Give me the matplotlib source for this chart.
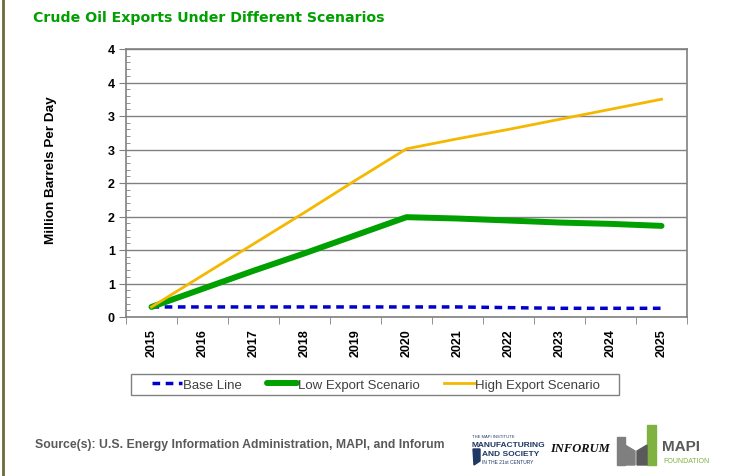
import matplotlib
matplotlib.use("Agg")
import matplotlib.pyplot as plt
from matplotlib.ticker import FixedLocator, MultipleLocator
from matplotlib.patches import Rectangle, Polygon
import numpy as np

years = ["2015", "2016", "2017", "2018", "2019", "2020", "2021", "2022", "2023", "2024", "2025"]
base_line = [0.15, 0.15, 0.15, 0.15, 0.15, 0.15, 0.15, 0.14, 0.13, 0.13, 0.13]
low_export = [0.15, 0.42, 0.69, 0.95, 1.22, 1.49, 1.47, 1.44, 1.41, 1.39, 1.36]
high_export = [0.15, 0.62, 1.09, 1.56, 2.04, 2.51, 2.66, 2.80, 2.95, 3.10, 3.25]
y_ticks = [0, 0.5, 1, 1.5, 2, 2.5, 3, 3.5, 4]
y_tick_labels = ["0", "1", "1", "2", "2", "3", "3", "4", "4"]

W, H = 742, 477
fig = plt.figure(figsize=(W / 100, H / 100), dpi=100)
fig.patch.set_facecolor("white")

ax = fig.add_axes([126 / W, 1 - 318 / H, (687 - 126) / W, (318 - 50) / H])
x = np.arange(len(years))
grid_c = "#808080"

ax.plot(x, base_line, color="#0000CC", lw=2.5, ls=(0, (2.2, 1.6)), label="Base Line", zorder=3)
ax.plot(x, low_export, color="#00A000", lw=4.3, label="Low Export Scenario", solid_capstyle="round", zorder=4)
ax.plot(x, high_export, color="#F5B800", lw=2, label="High Export Scenario", zorder=5)

ax.set_xlim(-0.5, len(years) - 0.5)
ax.set_ylim(0, 4)
ax.yaxis.set_major_locator(FixedLocator(y_ticks))
ax.set_yticklabels(y_tick_labels)
ax.yaxis.set_minor_locator(MultipleLocator(0.1))
ax.set_xticks(x)
ax.set_xticklabels(years, rotation=90)
ax.set_xticks(np.arange(-0.5, len(years), 1), minor=True)
ax.tick_params(axis="x", which="major", length=0, pad=8)
ax.tick_params(axis="x", which="minor", length=5, color=grid_c, direction="out")
ax.tick_params(axis="y", which="major", length=5, color=grid_c, direction="out", pad=3)
ax.tick_params(axis="y", which="minor", length=3, color=grid_c, direction="in")
for lab in ax.get_xticklabels() + ax.get_yticklabels():
    lab.set_fontfamily("Liberation Sans")
    lab.set_fontweight("bold")
    lab.set_fontsize(9)
ax.grid(axis="y", which="major", color=grid_c, lw=1)
ax.set_axisbelow(True)
for s in ax.spines.values():
    s.set_color(grid_c)
    s.set_linewidth(1.2)

ax.set_ylabel("Million Barrels Per Day", fontfamily="Liberation Sans", fontweight="bold", fontsize=9.7)
ax.yaxis.set_label_coords((57 - 126) / 561, (318 - 170) / 268)

# legend frame drawn separately (wide horizontal padding like the original)
fig.add_artist(Rectangle((131 / W, 1 - 396 / H), (619 - 131) / W, 21 / H, transform=fig.transFigure,
                         facecolor="white", edgecolor="#808080", lw=1, zorder=1))
leg = fig.legend(loc="center", bbox_to_anchor=(376 / W, 1 - 385.5 / H), ncol=3, frameon=False,
                 handlelength=2.3, handletextpad=0.05, columnspacing=1.9, borderpad=0.3,
                 prop={"family": "Liberation Sans", "size": 9.5})
leg.set_zorder(2)
for t in leg.get_texts():
    t.set_color("#404040")

fig.text(33 / W, 1 - 18 / H, "Crude Oil Exports Under Different Scenarios", color="#00A000",
         fontsize=10.2, fontweight="bold", fontfamily="DejaVu Sans", va="center", ha="left")
fig.text(35 / W, 1 - 445 / H, "Source(s): U.S. Energy Information Administration, MAPI, and Inforum",
         color="#595959", fontsize=8.8, fontweight="bold", fontfamily="Liberation Sans", va="center", ha="left")

# left slide border
fig.add_artist(plt.Line2D([3 / W, 3 / W], [0, 1], color="#6B6B3A", lw=2, transform=fig.transFigure))

# logo approximations
fig.text(472 / W, 1 - 438 / H, "THE MAPI INSTITUTE", fontsize=3, color="#1F3864", fontfamily="Liberation Sans")
fig.text(472 / W, 1 - 447 / H, "MANUFACTURING", fontsize=6, fontweight="bold", color="#1F3864",
         fontfamily="Liberation Sans", stretch="condensed")
fig.text(482 / W, 1 - 456 / H, "AND SOCIETY", fontsize=6, fontweight="bold", color="#1F3864", fontfamily="Liberation Sans")
fig.text(482 / W, 1 - 464 / H, "IN THE 21st CENTURY", fontsize=3.5, color="#1F3864", fontfamily="Liberation Sans")
fig.add_artist(Polygon([[473 / W, 1 - 450 / H], [480 / W, 1 - 450 / H], [480 / W, 1 - 462 / H], [474 / W, 1 - 466 / H]],
                       closed=True, transform=fig.transFigure, color="#1F3864"))
fig.text(550 / W, 1 - 452 / H, "INFORUM", fontsize=9, fontweight="bold", style="italic", color="#111111",
         fontfamily="Liberation Serif")
fig.add_artist(Rectangle((617 / W, 1 - 466 / H), 8 / W, 28 / H, transform=fig.transFigure, color="#7F7F7F"))
fig.add_artist(Polygon([[625 / W, 1 - 446 / H], [635 / W, 1 - 452 / H], [635 / W, 1 - 466 / H], [625 / W, 1 - 466 / H]],
                       closed=True, transform=fig.transFigure, color="#7F7F7F"))
fig.add_artist(Rectangle((647 / W, 1 - 466 / H), 9 / W, 40 / H, transform=fig.transFigure, color="#7FB241"))
fig.add_artist(Polygon([[637 / W, 1 - 452 / H], [647 / W, 1 - 446 / H], [647 / W, 1 - 466 / H], [637 / W, 1 - 466 / H]],
                       closed=True, transform=fig.transFigure, color="#5A5A5A"))
fig.text(662 / W, 1 - 447 / H, "MAPI", fontsize=11, fontweight="bold", color="#595959", fontfamily="Liberation Sans",
         va="center")
fig.text(663 / W, 1 - 462 / H, "FOUNDATION", fontsize=5, color="#7FB241", fontfamily="Liberation Sans", va="center")

fig.savefig("out.png", dpi=100)
